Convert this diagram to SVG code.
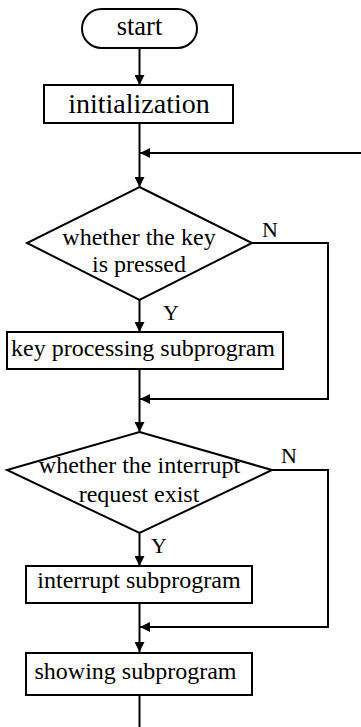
<svg xmlns="http://www.w3.org/2000/svg" width="361" height="727" viewBox="0 0 361 727">
<defs>
<marker id="ah" markerWidth="10" markerHeight="10" refX="10" refY="5" orient="auto" markerUnits="userSpaceOnUse">
<path d="M0,0 L10,5 L0,10 z" fill="#000"/>
</marker>
<style>
.shape{fill:#fff;stroke:#000;stroke-width:2}
.conn{fill:none;stroke:#000;stroke-width:2}
.arr{marker-end:url(#ah)}
text{font-family:"Liberation Serif","Times New Roman",serif;fill:#000}
.t{font-size:24px;text-anchor:middle}
.lbl{font-size:22px}
</style>
</defs>
<rect width="361" height="727" fill="#fff"/>
<g id="connectors">
<path class="conn arr" d="M139.5,48 V85"/>
<path class="conn arr" d="M139.5,123 V187"/>
<path class="conn arr" d="M361,153 H140"/>
<path class="conn arr" d="M139.5,300 V332"/>
<path class="conn arr" d="M252,243 H328 V399 H140"/>
<path class="conn arr" d="M139.5,369 V432"/>
<path class="conn arr" d="M139.5,533 V566"/>
<path class="conn arr" d="M272,470 H328 V627 H140"/>
<path class="conn arr" d="M139.5,603 V652"/>
<path class="conn" d="M139.5,695 V727"/>
<text class="lbl" x="262" y="237">N</text>
<text class="lbl" x="163" y="320">Y</text>
<text class="lbl" x="281" y="463">N</text>
<text class="lbl" x="151" y="553">Y</text>
</g>
<g id="start">
<rect class="shape" x="82" y="9" width="115" height="39" rx="19.5" ry="19.5"/>
<text class="t" x="139.5" y="35" style="font-size:26.5px">start</text>
</g>
<g id="init">
<rect class="shape" x="44" y="85" width="189" height="38"/>
<text class="t" x="139" y="113" style="font-size:28px">initialization</text>
</g>
<g id="key-check">
<polygon class="shape" points="139.5,187 252,243 139.5,300 27,243"/>
<text class="t" x="139" y="245">whether the key</text>
<text class="t" x="139" y="272">is pressed</text>
</g>
<g id="key-proc">
<rect class="shape" x="7" y="332" width="276" height="37"/>
<text class="t" x="143" y="356">key processing subprogram</text>
</g>
<g id="int-check">
<polygon class="shape" points="139.5,432 272,470 139.5,533 7,470"/>
<text class="t" x="139.5" y="473">whether the interrupt</text>
<text class="t" x="139" y="502">request exist</text>
</g>
<g id="int-proc">
<rect class="shape" x="26" y="566" width="226" height="37"/>
<text class="t" x="139" y="588">interrupt subprogram</text>
</g>
<g id="show">
<rect class="shape" x="26" y="653" width="226" height="42"/>
<text class="t" x="135.5" y="679">showing subprogram</text>
</g>
</svg>
